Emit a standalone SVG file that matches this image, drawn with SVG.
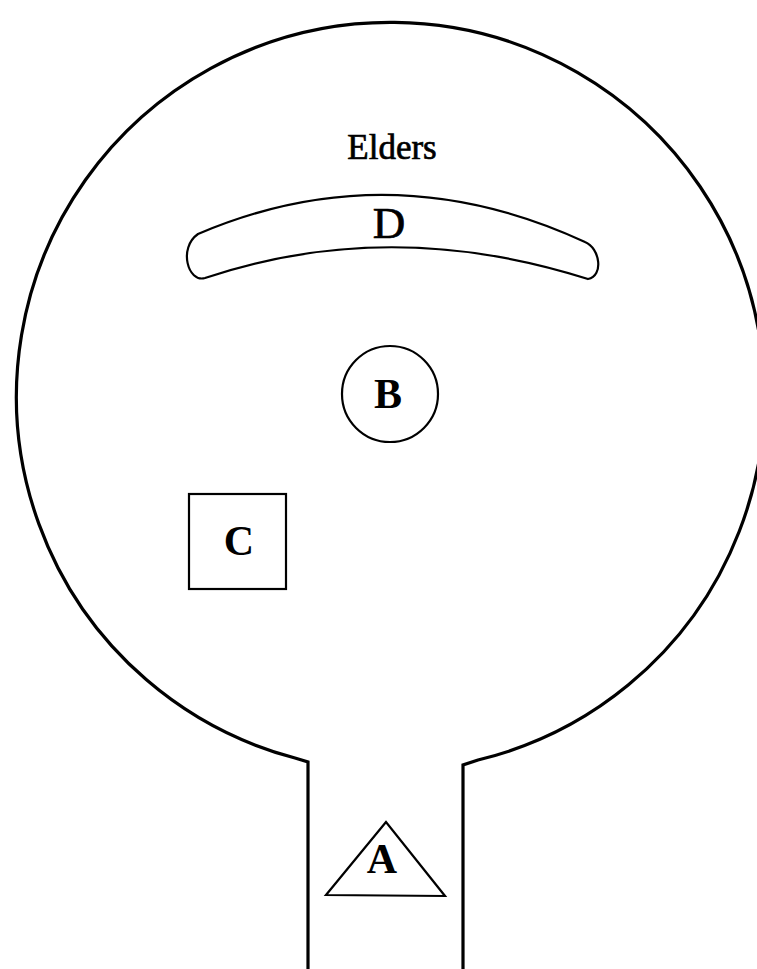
<svg xmlns="http://www.w3.org/2000/svg" width="757" height="969" viewBox="0 0 757 969">
<style>
.outline{fill:none;stroke:#000;stroke-width:3.2;stroke-linejoin:miter}
.shape{fill:none;stroke:#000;stroke-width:2.2}
.lbl{font-family:"Liberation Serif","Times New Roman",serif;fill:#000;text-anchor:middle}
.b{font-weight:bold}
.heavy{stroke:#000;stroke-width:0.7}
</style>
<rect width="757" height="969" fill="#fff"/>
<g id="room">
<path class="outline" d="M 308,969 L 308,762 L 295,758 A 374 374 0 1 1 478,760 L 463,765 L 463,969"/>
<text class="lbl heavy" x="392" y="159" font-size="35">Elders</text>
</g>
<g id="D">
<path class="shape" d="M 198,234 Q 390,152 585,242 C 600,248 604,276 588,279 Q 390,216 205,278 C 188,283 178,248 198,234 Z"/>
<text class="lbl heavy" x="389" y="238" font-size="45">D</text>
</g>
<g id="B">
<circle class="shape" cx="390" cy="394" r="48"/>
<text class="lbl b" x="388" y="408" font-size="42">B</text>
</g>
<g id="C">
<rect class="shape" x="189" y="494" width="97" height="95"/>
<text class="lbl b" x="239" y="555" font-size="42">C</text>
</g>
<g id="A">
<polygon class="shape" points="386,822 326,895 445,896"/>
<text class="lbl b" x="382" y="873" font-size="42">A</text>
</g>
<g id="connectors"></g>
</svg>
